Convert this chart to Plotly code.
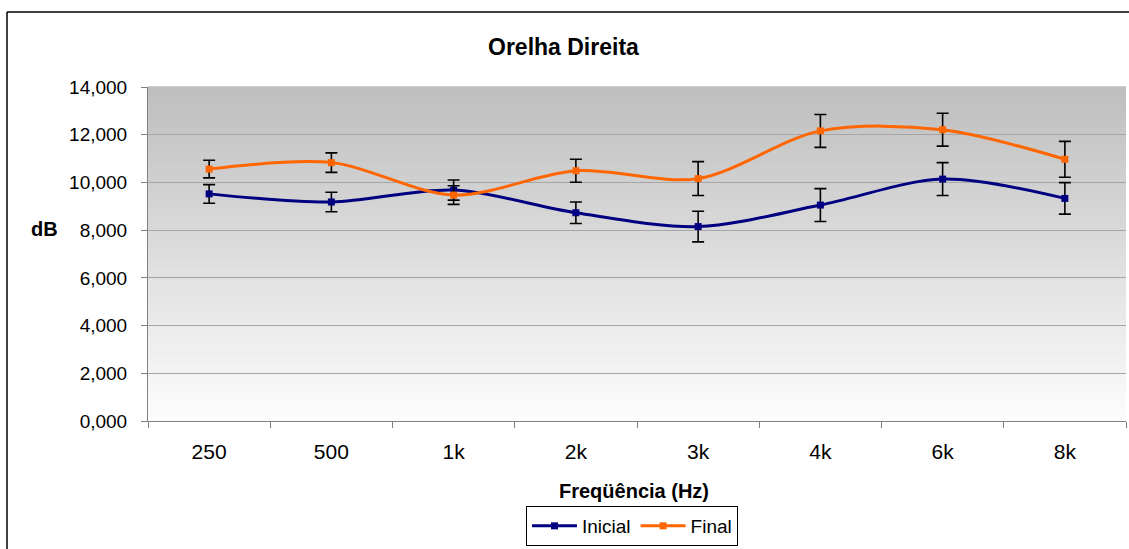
import plotly.graph_objects as go

# Hearing thresholds per frequency band, right ear
categories = ["250", "500", "1k", "2k", "3k", "4k", "6k", "8k"]
inicial = [9.52, 9.18, 9.68, 8.73, 8.15, 9.05, 10.14, 9.33]
inicial_err = [0.39, 0.41, 0.42, 0.45, 0.64, 0.69, 0.69, 0.66]
final = [10.56, 10.83, 9.47, 10.49, 10.16, 12.16, 12.21, 10.97]
final_err = [0.37, 0.41, 0.39, 0.48, 0.71, 0.69, 0.69, 0.75]
y_ticks = [0, 2, 4, 6, 8, 10, 12, 14]

W, H = 1129, 549
L, R, T, B = 148, 3, 87, 128
PW, PH = W - L - R, H - T - B


def px_x(p):
    return (p - L) / PW


def px_y(p):
    return (H - B - p) / PH


FONT = "Liberation Sans, Arial, sans-serif"

fig = go.Figure()

fig.add_trace(go.Scatter(
    x=categories, y=inicial, name="Inicial", mode="lines+markers",
    line=dict(color="#000080", width=3, shape="spline", smoothing=0.9),
    marker=dict(symbol="square", size=7, color="#000080"),
    error_y=dict(type="data", array=inicial_err, color="black", thickness=1.6, width=6),
))
fig.add_trace(go.Scatter(
    x=categories, y=final, name="Final", mode="lines+markers",
    line=dict(color="#ff6600", width=3, shape="spline", smoothing=0.9),
    marker=dict(symbol="square", size=7, color="#ff6600"),
    error_y=dict(type="data", array=final_err, color="black", thickness=1.6, width=6),
))

# vertical gradient background of the plot area
shapes = []
n = 80
top, bottom = (190, 190, 190), (252, 252, 252)
for i in range(n):
    t = i / (n - 1)
    c = tuple(round(top[k] + (bottom[k] - top[k]) * t) for k in range(3))
    shapes.append(dict(
        type="rect", xref="x domain", yref="y domain",
        x0=0, x1=1, y0=1 - (i + 1) / n, y1=1 - i / n + 0.002,
        fillcolor="rgb(%d,%d,%d)" % c, line=dict(width=0), layer="below",
    ))
# outer chart frame: top and left edges
frame = dict(color="black", width=1.5)
shapes.append(dict(type="line", xref="paper", yref="paper",
                   x0=px_x(7), x1=px_x(W + 5), y0=px_y(12), y1=px_y(12),
                   line=frame, layer="below"))
shapes.append(dict(type="line", xref="paper", yref="paper",
                   x0=px_x(7), x1=px_x(7), y0=px_y(12), y1=px_y(H + 5),
                   line=frame, layer="below"))


def label(text, cx, cy, size):
    return dict(text=text, xref="paper", yref="paper", x=px_x(cx), y=px_y(cy),
                xanchor="center", yanchor="middle", showarrow=False,
                font=dict(size=size))


fig.update_layout(
    width=W, height=H,
    margin=dict(l=L, r=R, t=T, b=B, autoexpand=False),
    paper_bgcolor="white", plot_bgcolor="rgba(0,0,0,0)",
    separators=",.",
    font=dict(family=FONT, size=19, color="black"),
    shapes=shapes,
    showlegend=True,
    legend=dict(
        orientation="h", x=px_x(526), y=px_y(506), xanchor="left", yanchor="top",
        bordercolor="black", borderwidth=1, bgcolor="white",
        font=dict(family=FONT, size=19), itemwidth=45,
    ),
    annotations=[
        label("<b>Orelha Direita</b>", 563, 47, 23),
        label("<b>Freqüência (Hz)</b>", 634, 491, 20),
        label("<b>dB</b>", 44, 229, 20),
    ],
)

fig.update_xaxes(
    type="category", categoryorder="array", categoryarray=categories,
    range=[-0.5, len(categories) - 0.5],
    showgrid=False, showline=True, linecolor="#808080", linewidth=1,
    ticks="outside", tickson="boundaries", ticklen=6, tickcolor="#808080",
    tickfont=dict(size=21), ticklabelstandoff=12,
    zeroline=False, fixedrange=True,
)
fig.update_yaxes(
    range=[0, 14], tickvals=y_ticks, tickformat=".3f",
    showgrid=True, gridcolor="#a6a6a6", gridwidth=1,
    showline=True, linecolor="#808080", linewidth=1,
    ticks="outside", ticklen=6, tickcolor="#808080",
    ticklabelstandoff=10,
    zeroline=False, fixedrange=True,
)

fig.write_html("out.html")
